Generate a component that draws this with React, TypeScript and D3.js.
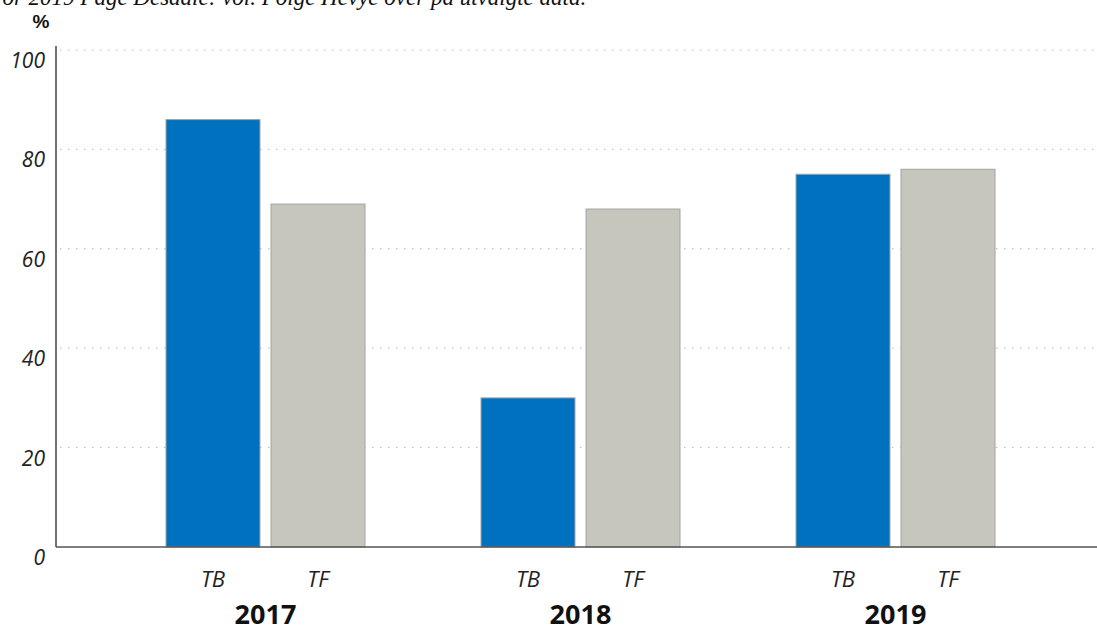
import React, { useEffect, useRef } from 'react';
import * as d3 from 'd3';

const years = ['2017', '2018', '2019'];
const series = ['TB', 'TF'];
const tbValues = [86, 30, 75];
const tfValues = [69, 68, 76];
const yTicks = [0, 20, 40, 60, 80, 100];

const colors: Record<string, string> = { TB: '#0071bf', TF: '#c7c6bd' };

export default function App() {
  const ref = useRef<SVGSVGElement>(null);

  useEffect(() => {
    const width = 1097;
    const height = 632;
    const margin = { top: 50, bottom: 85, left: 56, right: 0 };

    const svg = d3.select(ref.current);
    svg.selectAll('*').remove();

    const rows = years.map((year, i) => ({
      year,
      values: [
        { key: 'TB', value: tbValues[i] },
        { key: 'TF', value: tfValues[i] },
      ],
    }));

    const x0 = d3.scaleBand().domain(years).range([108, 1053]).padding(0);
    const x1 = d3
      .scaleBand()
      .domain(series)
      .range([58, 257])
      .paddingInner(0.105);
    const y = d3
      .scaleLinear()
      .domain([0, 100])
      .range([height - margin.bottom, margin.top]);

    // caption, cut off by the top edge as in the source
    svg
      .append('text')
      .attr('x', -4)
      .attr('y', 5)
      .attr('font-family', '"Liberation Serif", serif')
      .attr('font-style', 'italic')
      .attr('font-size', 23)
      .attr('fill', '#111')
      .text('for 2019 Page Desdale: vol. Folge Hevye over på utvalgte data.');

    svg
      .append('text')
      .attr('x', 41)
      .attr('y', 28)
      .attr('text-anchor', 'middle')
      .attr('font-family', '"Liberation Sans", Arial, sans-serif')
      .attr('font-weight', 700)
      .attr('font-size', 19)
      .attr('fill', '#111')
      .text('%');

    // dotted grid
    svg
      .append('g')
      .selectAll('line')
      .data(yTicks.filter((d) => d > 0))
      .join('line')
      .attr('x1', 60)
      .attr('x2', width)
      .attr('y1', (d) => y(d))
      .attr('y2', (d) => y(d))
      .attr('stroke', '#b5b5b5')
      .attr('stroke-width', 1)
      .attr('stroke-dasharray', '1.5,6.5');

    // tick labels
    svg
      .append('g')
      .selectAll('text')
      .data(yTicks)
      .join('text')
      .attr('x', 45)
      .attr('y', (d) => y(d) + 18)
      .attr('text-anchor', 'end')
      .attr('font-family', '"Open Sans", sans-serif')
      .attr('font-style', 'italic')
      .attr('font-size', 21)
      .attr('fill', '#222')
      .text((d) => d);

    // bars
    const groups = svg
      .append('g')
      .selectAll('g')
      .data(rows)
      .join('g')
      .attr('transform', (d) => `translate(${x0(d.year)},0)`);

    groups
      .selectAll('rect')
      .data((d) => d.values)
      .join('rect')
      .attr('x', (d) => x1(d.key) as number)
      .attr('y', (d) => y(d.value))
      .attr('width', x1.bandwidth())
      .attr('height', (d) => y(0) - y(d.value))
      .attr('fill', (d) => colors[d.key])
      .attr('stroke', '#a3a3a3')
      .attr('stroke-width', 1);

    groups
      .selectAll('text.series')
      .data((d) => d.values)
      .join('text')
      .attr('class', 'series')
      .attr('x', (d) => (x1(d.key) as number) + x1.bandwidth() / 2)
      .attr('y', 587)
      .attr('text-anchor', 'middle')
      .attr('font-family', '"Open Sans", sans-serif')
      .attr('font-style', 'italic')
      .attr('font-size', 22)
      .attr('fill', '#222')
      .text((d) => d.key);

    groups
      .append('text')
      .attr('x', x0.bandwidth() / 2)
      .attr('y', 624)
      .attr('text-anchor', 'middle')
      .attr('font-family', '"Open Sans", sans-serif')
      .attr('font-weight', 700)
      .attr('font-size', 27)
      .attr('fill', '#111')
      .text((d) => d.year);

    // axis lines
    svg
      .append('line')
      .attr('x1', margin.left)
      .attr('x2', margin.left)
      .attr('y1', y(100) - 4)
      .attr('y2', y(0))
      .attr('stroke', '#444')
      .attr('stroke-width', 1.5);

    svg
      .append('line')
      .attr('x1', margin.left)
      .attr('x2', width)
      .attr('y1', y(0))
      .attr('y2', y(0))
      .attr('stroke', '#555')
      .attr('stroke-width', 1.5);
  }, []);

  return (
    <svg
      ref={ref}
      width={1097}
      height={632}
      style={{ position: 'absolute', left: 0, top: 0, background: '#fff' }}
    />
  );
}
